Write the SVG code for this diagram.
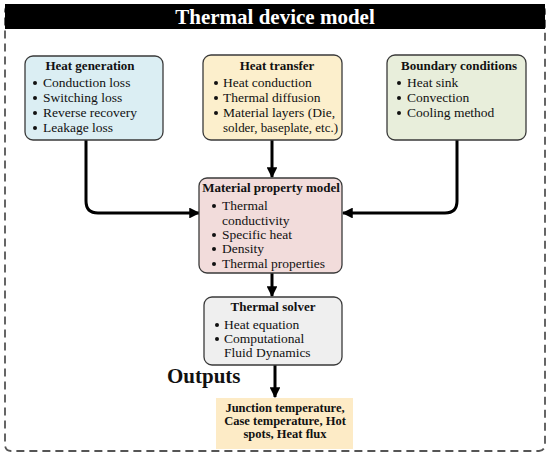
<svg xmlns="http://www.w3.org/2000/svg" width="550" height="455" viewBox="0 0 550 455">
<defs>
<marker id="ah" viewBox="0 0 10 10" refX="9" refY="5" markerWidth="3.6" markerHeight="3.6" orient="auto" markerUnits="strokeWidth">
<path d="M0,0 L10,5 L0,10 z" fill="#000"/>
</marker>
</defs>
<style>
text{font-family:"Liberation Serif","Times New Roman",serif;fill:#111;}
.t{font-size:13px;font-weight:bold;text-anchor:middle;}
.b{font-size:13.5px;}
.box{stroke:#3a3a3a;stroke-width:1.3;}
.c{fill:none;stroke:#000;stroke-width:3;marker-end:url(#ah);}
.dot{fill:#111;}
</style>
<rect x="5" y="5" width="540" height="446" rx="6" fill="#fff" stroke="#555" stroke-width="1.8" stroke-dasharray="8 5"/>
<g id="title">
<rect x="5" y="4" width="540" height="25" fill="#000"/>
<text x="275" y="24" style="font-size:21px;font-weight:bold;fill:#fff;text-anchor:middle">Thermal device model</text>
</g>
<g id="connectors">
<path class="c" d="M86,140 V201 Q86,213 98,213 H199"/>
<path class="c" d="M457,140 V201 Q457,213 445,213 H343"/>
<path class="c" d="M272,140 V177"/>
<path class="c" d="M272,273 V296"/>
<path class="c" d="M275,365 V397"/>
</g>
<g id="heat-generation">
<rect class="box" x="25" y="56" width="138" height="84" rx="8" fill="#dbeef3"/>
<text class="t" x="90" y="70">Heat generation</text>
<circle class="dot" cx="35" cy="83" r="2"/><text class="b" x="43" y="87">Conduction loss</text>
<circle class="dot" cx="35" cy="98" r="2"/><text class="b" x="43" y="102">Switching loss</text>
<circle class="dot" cx="35" cy="113" r="2"/><text class="b" x="43" y="117">Reverse recovery</text>
<circle class="dot" cx="35" cy="128" r="2"/><text class="b" x="43" y="132">Leakage loss</text>
</g>
<g id="heat-transfer">
<rect class="box" x="203" y="55" width="139" height="85" rx="8" fill="#fcefcc"/>
<text class="t" x="277" y="70">Heat transfer</text>
<circle class="dot" cx="216" cy="83" r="2"/><text class="b" x="223" y="87">Heat conduction</text>
<circle class="dot" cx="216" cy="98" r="2"/><text class="b" x="223" y="102">Thermal diffusion</text>
<circle class="dot" cx="216" cy="113" r="2"/><text class="b" x="223" y="117">Material layers (Die,</text>
<text class="b" x="223" y="132" textLength="115" lengthAdjust="spacingAndGlyphs">solder, baseplate, etc.)</text>
</g>
<g id="boundary-conditions">
<rect class="box" x="387" y="55" width="139" height="85" rx="8" fill="#e8eedb"/>
<text class="t" x="459" y="70">Boundary conditions</text>
<circle class="dot" cx="399" cy="83" r="2"/><text class="b" x="407" y="87">Heat sink</text>
<circle class="dot" cx="399" cy="98" r="2"/><text class="b" x="407" y="102">Convection</text>
<circle class="dot" cx="399" cy="113" r="2"/><text class="b" x="407" y="117">Cooling method</text>
</g>
<g id="material-property-model">
<rect class="box" x="199" y="178" width="143" height="95" rx="8" fill="#f2dcdb"/>
<text class="t" x="271" y="192">Material property model</text>
<circle class="dot" cx="214" cy="206" r="2"/><text class="b" x="222" y="210">Thermal</text>
<text class="b" x="222" y="225">conductivity</text>
<circle class="dot" cx="214" cy="235" r="2"/><text class="b" x="222" y="239">Specific heat</text>
<circle class="dot" cx="214" cy="249" r="2"/><text class="b" x="222" y="253">Density</text>
<circle class="dot" cx="214" cy="264" r="2"/><text class="b" x="222" y="268">Thermal properties</text>
</g>
<g id="thermal-solver">
<rect class="box" x="204" y="297" width="138" height="68" rx="8" fill="#efefef"/>
<text class="t" x="273" y="311">Thermal solver</text>
<circle class="dot" cx="217" cy="325" r="2"/><text class="b" x="224" y="329">Heat equation</text>
<circle class="dot" cx="217" cy="339" r="2"/><text class="b" x="224" y="343">Computational</text>
<text class="b" x="224" y="357">Fluid Dynamics</text>
</g>
<g id="outputs-label">
<text x="167" y="383" style="font-size:21px;font-weight:bold">Outputs</text>
</g>
<g id="outputs">
<rect x="216" y="398" width="137" height="51" fill="#fdebc6"/>
<text x="285" y="412" style="font-size:12.5px;font-weight:bold;text-anchor:middle">Junction temperature,</text>
<text x="285" y="425" style="font-size:12.5px;font-weight:bold;text-anchor:middle">Case temperature, Hot</text>
<text x="285" y="438" style="font-size:12.5px;font-weight:bold;text-anchor:middle">spots, Heat flux</text>
</g>
</svg>
